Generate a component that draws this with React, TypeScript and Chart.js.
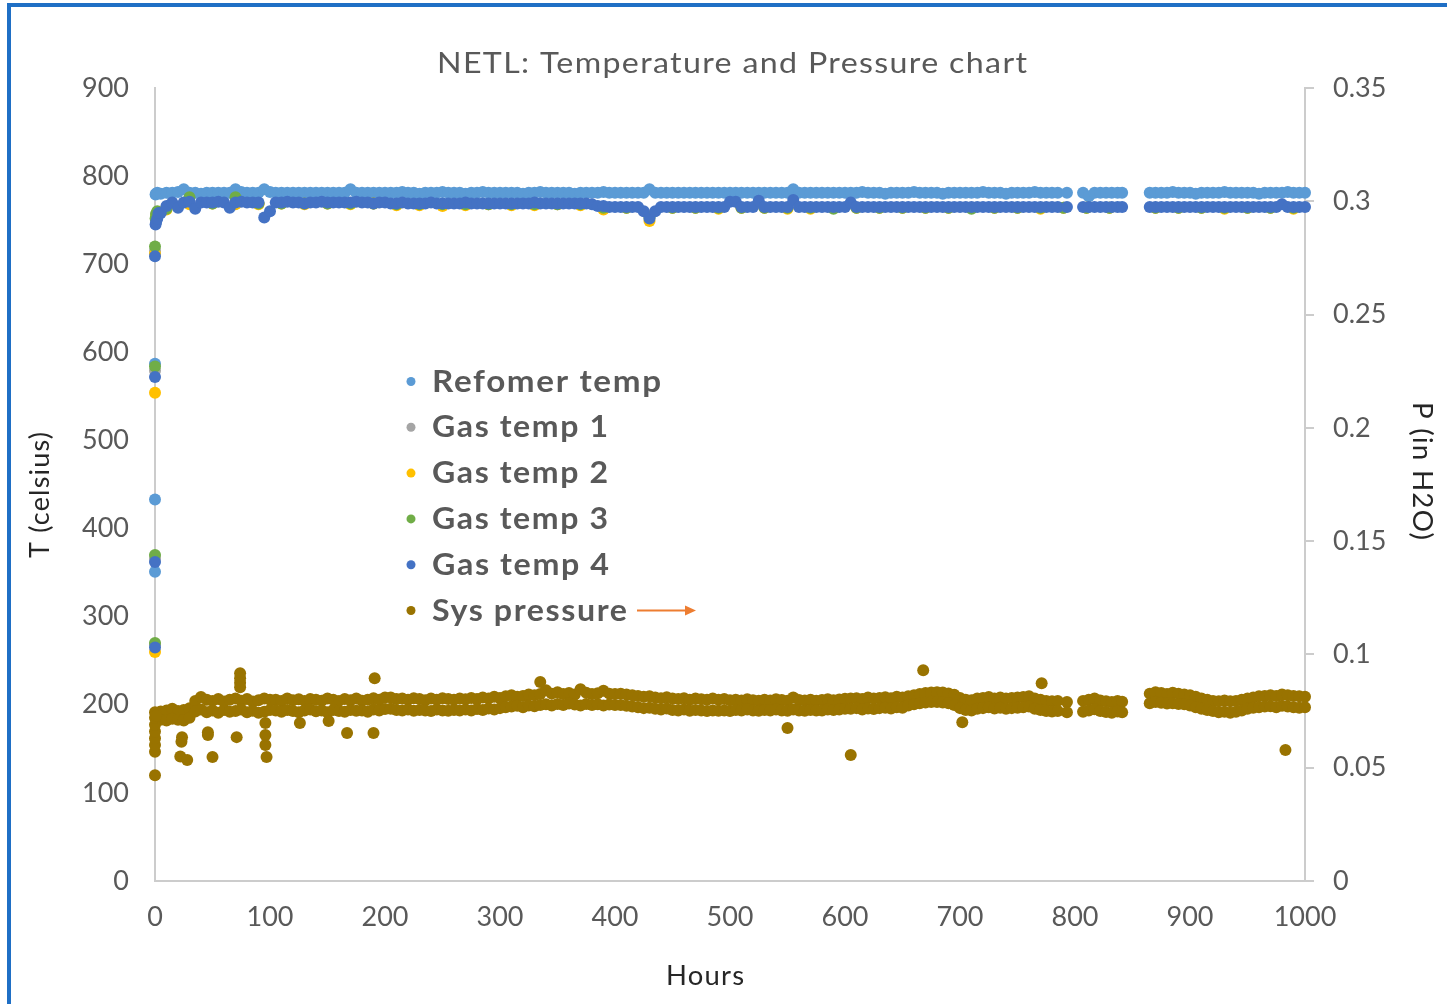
import React, { useEffect, useRef } from "react";
import { Chart, registerables } from "chart.js";

Chart.register(...registerables);

// ---------- DATA ----------
const chartTitle = "NETL: Temperature and Pressure chart";
const xTitle = "Hours";
const yLeftTitle = "T (celsius)";
const yRightTitle = "P (in H2O)";

const seriesNames = ["Refomer temp", "Gas temp 1", "Gas temp 2", "Gas temp 3", "Gas temp 4", "Sys pressure"];
const seriesColors = ["#5b9bd5", "#a5a5a5", "#ffc000", "#70ad47", "#4472c4", "#997300"];

// sampling hours of the steady-state readings
const hoursT = [
  5, 10, 15, 20, 25, 30, 35, 40, 45, 50, 55, 60, 65, 70, 75, 80, 85, 90, 95, 100,
  105, 110, 115, 120, 125, 130, 135, 140, 145, 150, 155, 160, 165, 170, 175, 180, 185, 190, 195, 200,
  205, 210, 215, 220, 225, 230, 235, 240, 245, 250, 255, 260, 265, 270, 275, 280, 285, 290, 295, 300,
  305, 310, 315, 320, 325, 330, 335, 340, 345, 350, 355, 360, 365, 370, 375, 380, 385, 390, 395, 400,
  405, 410, 415, 420, 425, 430, 435, 440, 445, 450, 455, 460, 465, 470, 475, 480, 485, 490, 495, 500,
  505, 510, 515, 520, 525, 530, 535, 540, 545, 550, 555, 560, 565, 570, 575, 580, 585, 590, 595, 600,
  605, 610, 615, 620, 625, 630, 635, 640, 645, 650, 655, 660, 665, 670, 675, 680, 685, 690, 695, 700,
  705, 710, 715, 720, 725, 730, 735, 740, 745, 750, 755, 760, 765, 770, 775, 780, 785, 793,
  807, 812, 817, 822, 827, 832, 837, 841,
  865, 870, 875, 880, 885, 890, 895, 900, 905, 910, 915, 920, 925, 930, 935, 940, 945, 950, 955, 960,
  965, 970, 975, 980, 985, 990, 995, 1000,
];

const reformerTemp = [
  780, 781, 781, 782, 785, 781, 781, 780, 781, 781, 781, 781, 781, 785, 782, 781, 781, 781, 785, 782,
  781, 781, 781, 781, 781, 781, 781, 781, 781, 781, 781, 781, 781, 785, 781, 781, 781, 781, 781, 781,
  781, 781, 782, 781, 781, 780, 781, 781, 781, 782, 781, 781, 781, 780, 781, 781, 782, 781, 781, 781,
  781, 781, 781, 780, 781, 781, 782, 781, 781, 781, 781, 781, 780, 781, 781, 781, 781, 782, 781, 781,
  781, 781, 781, 781, 781, 785, 781, 781, 781, 781, 781, 781, 781, 781, 781, 781, 781, 781, 781, 781,
  781, 781, 781, 781, 781, 781, 781, 781, 781, 781, 785, 781, 781, 781, 781, 781, 781, 781, 781, 781,
  781, 781, 782, 781, 781, 781, 780, 781, 781, 781, 781, 782, 781, 781, 781, 781, 780, 781, 781, 781,
  781, 781, 781, 782, 781, 781, 781, 780, 781, 781, 781, 781, 782, 781, 781, 781, 781, 781,
  781, 777, 781, 781, 781, 781, 781, 781,
  781, 781, 781, 781, 782, 781, 781, 781, 780, 781, 781, 781, 781, 782, 781, 781, 781, 781, 781, 780,
  781, 781, 781, 781, 782, 781, 781, 781,
];

const gasTemp4 = [
  758, 766, 770, 764, 770, 771, 763, 770, 770, 770, 771, 770, 764, 770, 771, 770, 770, 770, 753, 760,
  770, 770, 771, 770, 770, 769, 770, 770, 771, 770, 770, 770, 770, 770, 771, 770, 770, 769, 770, 770,
  769, 769, 770, 769, 769, 769, 769, 770, 769, 769, 769, 769, 769, 770, 769, 769, 769, 769, 769, 769,
  769, 769, 769, 769, 769, 770, 769, 769, 769, 769, 769, 769, 769, 769, 769, 768, 766, 766, 765, 765,
  765, 765, 765, 765, 760, 752, 760, 765, 765, 765, 765, 765, 765, 765, 765, 765, 765, 765, 765, 771,
  771, 765, 765, 765, 772, 765, 765, 765, 765, 765, 773, 765, 765, 765, 765, 765, 765, 765, 765, 765,
  770, 765, 765, 765, 765, 765, 765, 765, 765, 765, 765, 765, 765, 765, 765, 765, 765, 765, 765, 765,
  765, 765, 765, 765, 765, 765, 765, 765, 765, 765, 765, 765, 765, 765, 765, 765, 765, 765,
  765, 765, 765, 765, 765, 765, 765, 765,
  765, 765, 765, 765, 765, 765, 765, 765, 765, 765, 765, 765, 765, 765, 765, 765, 765, 765, 765, 765,
  765, 765, 765, 768, 765, 765, 765, 765,
];

const pressureUpper = [
  0.0748, 0.0752, 0.0760, 0.0750, 0.0755, 0.0762, 0.0795, 0.0812, 0.0800, 0.0795, 0.0803, 0.0792, 0.0800, 0.0805, 0.0796, 0.0803, 0.0792, 0.0798, 0.0805, 0.0800,
  0.0800, 0.0795, 0.0805, 0.0798, 0.0802, 0.0795, 0.0803, 0.0800, 0.0796, 0.0805, 0.0800, 0.0795, 0.0803, 0.0798, 0.0805, 0.0796, 0.0800, 0.0807, 0.0800, 0.0810,
  0.0810, 0.0803, 0.0805, 0.0800, 0.0807, 0.0803, 0.0798, 0.0805, 0.0800, 0.0807, 0.0803, 0.0800, 0.0805, 0.0802, 0.0808, 0.0803, 0.0810, 0.0805, 0.0813, 0.0808,
  0.0815, 0.0820, 0.0813, 0.0817, 0.0823, 0.0820, 0.0825, 0.0842, 0.0827, 0.0833, 0.0825, 0.0830, 0.0823, 0.0846, 0.0831, 0.0825, 0.0829, 0.0840, 0.0827, 0.0825,
  0.0827, 0.0823, 0.0820, 0.0817, 0.0813, 0.0815, 0.0810, 0.0807, 0.0811, 0.0805, 0.0803, 0.0807, 0.0800, 0.0805, 0.0802, 0.0800, 0.0805, 0.0800, 0.0803, 0.0798,
  0.0800, 0.0797, 0.0802, 0.0798, 0.0796, 0.0800, 0.0797, 0.0802, 0.0799, 0.0796, 0.0810, 0.0799, 0.0797, 0.0800, 0.0796, 0.0799, 0.0802, 0.0798, 0.0801, 0.0804,
  0.0805, 0.0807, 0.0803, 0.0810, 0.0805, 0.0808, 0.0811, 0.0807, 0.0813, 0.0810, 0.0815, 0.0820, 0.0825, 0.0830, 0.0832, 0.0833, 0.0832, 0.0828, 0.0822, 0.0808,
  0.0800, 0.0798, 0.0805, 0.0808, 0.0812, 0.0806, 0.0810, 0.0805, 0.0808, 0.0810, 0.0812, 0.0815, 0.0805, 0.0800, 0.0795, 0.0793, 0.0795, 0.0790,
  0.0795, 0.0800, 0.0805, 0.0797, 0.0793, 0.0790, 0.0795, 0.0791,
  0.0827, 0.0833, 0.0830, 0.0825, 0.0831, 0.0827, 0.0823, 0.0820, 0.0813, 0.0805, 0.0800, 0.0795, 0.0793, 0.0797, 0.0793, 0.0795, 0.0800, 0.0805, 0.0810, 0.0815,
  0.0817, 0.0820, 0.0817, 0.0823, 0.0820, 0.0817, 0.0815, 0.0813,
];

const pressureLower = [
  0.0712, 0.0708, 0.0716, 0.0712, 0.0708, 0.0720, 0.0748, 0.0757, 0.0745, 0.0753, 0.0743, 0.0755, 0.0747, 0.0750, 0.0757, 0.0745, 0.0751, 0.0743, 0.0747, 0.0755,
  0.0753, 0.0747, 0.0755, 0.0750, 0.0745, 0.0753, 0.0757, 0.0749, 0.0753, 0.0745, 0.0755, 0.0750, 0.0747, 0.0755, 0.0751, 0.0753, 0.0747, 0.0757, 0.0753, 0.0759,
  0.0760, 0.0755, 0.0753, 0.0757, 0.0751, 0.0755, 0.0753, 0.0750, 0.0757, 0.0753, 0.0751, 0.0755, 0.0752, 0.0757, 0.0753, 0.0759, 0.0755, 0.0761, 0.0757, 0.0763,
  0.0767, 0.0770, 0.0773, 0.0767, 0.0775, 0.0771, 0.0777, 0.0780, 0.0775, 0.0781, 0.0777, 0.0783, 0.0779, 0.0775, 0.0781, 0.0777, 0.0780, 0.0775, 0.0779, 0.0777,
  0.0777, 0.0773, 0.0770, 0.0767, 0.0763, 0.0765, 0.0760, 0.0757, 0.0761, 0.0755, 0.0753, 0.0757, 0.0751, 0.0755, 0.0752, 0.0750, 0.0753, 0.0751, 0.0753, 0.0750,
  0.0755, 0.0752, 0.0757, 0.0753, 0.0751, 0.0755, 0.0752, 0.0757, 0.0753, 0.0751, 0.0757, 0.0753, 0.0751, 0.0755, 0.0752, 0.0753, 0.0757, 0.0755, 0.0757, 0.0760,
  0.0760, 0.0763, 0.0757, 0.0761, 0.0759, 0.0763, 0.0765, 0.0761, 0.0767, 0.0765, 0.0775, 0.0780, 0.0784, 0.0788, 0.0790, 0.0790, 0.0788, 0.0784, 0.0777, 0.0763,
  0.0755, 0.0753, 0.0760, 0.0763, 0.0767, 0.0761, 0.0765, 0.0760, 0.0763, 0.0765, 0.0767, 0.0770, 0.0760, 0.0755, 0.0750, 0.0748, 0.0750, 0.0745,
  0.0747, 0.0752, 0.0758, 0.0750, 0.0746, 0.0743, 0.0748, 0.0745,
  0.0785, 0.0790, 0.0787, 0.0783, 0.0785, 0.0781, 0.0780, 0.0775, 0.0767, 0.0760, 0.0755, 0.0750, 0.0745, 0.0747, 0.0743, 0.0747, 0.0753, 0.0760, 0.0765, 0.0767,
  0.0770, 0.0771, 0.0767, 0.0773, 0.0770, 0.0767, 0.0765, 0.0767,
];

// scattered pressure readings off the main band
const pressureExtraHours = [0, 0, 0, 0, 0, 0, 0, 0, 1, 22, 23, 23.5, 28, 46, 46, 50, 71, 74, 74, 74, 74, 96, 96, 96, 97, 126, 151, 167, 190, 191, 335, 550, 605, 668, 702, 771, 983];
const pressureExtraValues = [0.0467, 0.057, 0.060, 0.063, 0.066, 0.069, 0.072, 0.0745, 0.073, 0.055, 0.0615, 0.0635, 0.0534, 0.0657, 0.0644, 0.0547, 0.0635, 0.0917, 0.0895, 0.0875, 0.0855, 0.0697, 0.0644, 0.060, 0.0547, 0.0697, 0.0706, 0.0653, 0.0653, 0.0895, 0.0878, 0.0675, 0.0556, 0.093, 0.0701, 0.0873, 0.0578];

// gas temps 1-3 (mostly hidden behind gas temp 4)
const hoursG = [10, 30, 50, 70, 90, 110, 130, 150, 170, 190, 210, 230, 250, 270, 290, 310, 330, 350, 370, 390, 410, 430, 450, 470, 490, 510, 530, 550, 570, 590, 610, 630, 650, 670, 690, 710, 730, 750, 770, 790, 810, 830, 870, 890, 910, 930, 950, 970, 990];
const gasTemp1 = [
  765, 769, 769, 769, 769, 769, 769, 769, 769, 769,
  768, 768, 768, 768, 768, 768, 768, 768, 768, 764,
  764, 755, 764, 764, 764, 764, 764, 764, 764, 764,
  764, 764, 764, 764, 764, 764, 764, 764, 764, 764,
  764, 764, 764, 764, 764, 764, 764, 764, 764,
];
const gasTemp2 = [
  762, 768, 769, 768, 768, 769, 768, 769, 768, 769,
  767, 767, 766, 767, 768, 767, 767, 768, 767, 762,
  764, 749, 764, 764, 763, 764, 764, 763, 763, 764,
  764, 764, 764, 764, 764, 764, 764, 764, 763, 764,
  764, 764, 764, 764, 764, 763, 764, 764, 763,
];
const gasTemp3 = [
  763, 776, 769, 776, 769, 769, 769, 769, 769, 769,
  768, 768, 768, 768, 768, 768, 768, 768, 768, 764,
  764, 753, 764, 764, 764, 764, 764, 764, 764, 763,
  764, 764, 764, 764, 764, 763, 764, 764, 764, 764,
  764, 764, 764, 764, 764, 764, 764, 764, 764,
];

// start-up readings (heat-up at hour 0)
const reformerStartHours = [0, 0, 0, 0.5, 1, 2];
const reformerStartTemps = [433, 351, 587, 779, 780, 781];
const gas1StartHours = [0, 0, 0, 0, 1];
const gas1StartTemps = [268, 366, 579, 715, 757];
const gas2StartHours = [0, 0, 0, 1];
const gas2StartTemps = [260, 554, 712, 755];
const gas3StartHours = [0, 0, 0, 0, 0.5, 1, 2];
const gas3StartTemps = [270, 370, 584, 720, 752, 757, 760];
const gas4StartHours = [0, 0, 0, 0, 0.5, 1, 2, 3];
const gas4StartTemps = [265, 362, 572, 709, 745, 748, 752, 758];

// ---------- helpers ----------
const toPoints = (xs: number[], ys: number[]) => xs.map((x, i) => ({ x, y: ys[i] }));

// draws text starting at `left`, spread to `width` (small letter spacing, then horizontal scale)
function drawFitted(ctx: any, text: string, left: number, y: number, width: number, font: string, color: string, baseline: string = "alphabetic", maxLs: number = 1.2) {
  ctx.font = font;
  ctx.fillStyle = color;
  ctx.textAlign = "left";
  ctx.textBaseline = baseline;
  ctx.letterSpacing = "0px";
  const n = text.length;
  const w = ctx.measureText(text).width;
  let ls = n > 1 ? (width - w) / (n - 1) : 0;
  if (ls > maxLs) ls = maxLs;
  if (ls < 0) ls = 0;
  const w2 = w + ls * (n - 1);
  const sx = width / w2;
  ctx.letterSpacing = ls.toFixed(2) + "px";
  ctx.save();
  ctx.translate(left, y);
  ctx.scale(sx, 1);
  ctx.fillText(text, 0, 0);
  ctx.restore();
  ctx.letterSpacing = "0px";
}

const legendWidths = [229, 176, 176, 176, 177, 195];

const textPlugin = {
  id: "textPlugin",
  afterDraw(chart: any) {
    const ctx = chart.ctx;
    ctx.save();
    drawFitted(ctx, chartTitle, 437, 73, 590, "29px Lato", "#595959");
    drawFitted(ctx, xTitle, 666, 985, 78, "27px Lato", "#262626");

    ctx.save();
    ctx.translate(40, 495);
    ctx.rotate(-Math.PI / 2);
    drawFitted(ctx, yLeftTitle, -63, 0, 126, "27px Lato", "#262626", "middle");
    ctx.restore();

    ctx.save();
    ctx.translate(1422, 471);
    ctx.rotate(Math.PI / 2);
    drawFitted(ctx, yRightTitle, -69, 0, 138, "27px Lato", "#262626", "middle");
    ctx.restore();

    // legend
    chart.data.datasets.forEach((ds: any, i: number) => {
      const cy = 381.5 + i * 45.8;
      ctx.beginPath();
      ctx.arc(411, cy, 4.5, 0, Math.PI * 2);
      ctx.fillStyle = ds.backgroundColor;
      ctx.fill();
      drawFitted(ctx, ds.label, 432, cy + 10, legendWidths[i], "bold 30px Lato", "#595959", "alphabetic", 1.5);
    });

    // arrow next to Sys pressure
    const ay = 381.5 + 5 * 45.8;
    ctx.strokeStyle = "#ed7d31";
    ctx.fillStyle = "#ed7d31";
    ctx.lineWidth = 2;
    ctx.beginPath();
    ctx.moveTo(637, ay);
    ctx.lineTo(686, ay);
    ctx.stroke();
    ctx.beginPath();
    ctx.moveTo(696, ay);
    ctx.lineTo(685, ay - 5);
    ctx.lineTo(685, ay + 5);
    ctx.closePath();
    ctx.fill();
    ctx.restore();
  },
};

export default function App() {
  const ref = useRef<HTMLCanvasElement>(null);

  useEffect(() => {
    const canvas = ref.current;
    if (!canvas) return;

    const mk = (idx: number, data: any[], order: number, yAxisID = "y") => ({
      label: seriesNames[idx],
      data,
      backgroundColor: seriesColors[idx],
      borderColor: seriesColors[idx],
      pointRadius: 6,
      pointHoverRadius: 6,
      pointBorderWidth: 0,
      showLine: false,
      clip: false,
      order,
      yAxisID,
    });

    const datasets = [
      mk(0, [...toPoints(reformerStartHours, reformerStartTemps), ...toPoints(hoursT, reformerTemp)], 6),
      mk(1, [...toPoints(gas1StartHours, gas1StartTemps), ...toPoints(hoursG, gasTemp1)], 5),
      mk(2, [...toPoints(gas2StartHours, gas2StartTemps), ...toPoints(hoursG, gasTemp2)], 4),
      mk(3, [...toPoints(gas3StartHours, gas3StartTemps), ...toPoints(hoursG, gasTemp3)], 3),
      mk(4, [...toPoints(gas4StartHours, gas4StartTemps), ...toPoints(hoursT, gasTemp4)], 2),
      mk(5, [...toPoints(hoursT, pressureUpper), ...toPoints(hoursT, pressureLower), ...toPoints(pressureExtraHours, pressureExtraValues)], 1, "y2"),
    ];

    const tickFont = { family: "Lato", size: 27 };
    const axisBorder = { display: true, color: "#cccccc", width: 2 };

    const chart = new Chart(canvas, {
      type: "scatter",
      data: { datasets } as any,
      options: {
        animation: false,
        responsive: false,
        devicePixelRatio: 1,
        events: [],
        layout: { padding: { top: 88, left: 0, right: 0, bottom: 0 } },
        plugins: {
          legend: { display: false },
          title: { display: false },
          tooltip: { enabled: false },
        },
        scales: {
          x: {
            type: "linear",
            position: "bottom",
            min: 0,
            max: 1000,
            grid: { display: false },
            border: axisBorder,
            ticks: {
              stepSize: 100,
              color: "#595959",
              font: tickFont,
              padding: 12,
              maxRotation: 0,
              autoSkip: false,
              callback: (v: any) => String(v),
            },
            afterFit: (s: any) => { s.height = 123; },
          },
          y: {
            type: "linear",
            position: "left",
            min: 0,
            max: 900,
            grid: { display: false },
            border: axisBorder,
            ticks: {
              stepSize: 100,
              color: "#595959",
              font: tickFont,
              padding: 18,
              callback: (v: any) => String(v),
            },
            afterFit: (s: any) => { s.width = 155; },
          },
          y2: {
            type: "linear",
            position: "right",
            min: 0,
            max: 0.35,
            grid: {
              display: true,
              drawOnChartArea: false,
              drawTicks: true,
              tickLength: 9,
              color: "#cccccc",
              lineWidth: 2,
            },
            border: axisBorder,
            ticks: {
              stepSize: 0.05,
              color: "#595959",
              font: tickFont,
              padding: 19,
              callback: (v: any) => String(Number(Number(v).toFixed(2))),
            },
            afterFit: (s: any) => { s.width = 142; },
          },
        },
      } as any,
      plugins: [textPlugin as any],
    });

    return () => chart.destroy();
  }, []);

  return (
    <div style={{ position: "fixed", left: 0, top: 0, width: 1447, height: 1004, background: "#ffffff", overflow: "hidden" }}>
      <canvas ref={ref} width={1447} height={1004} style={{ position: "absolute", left: 0, top: 0, width: 1447, height: 1004 }} />
      <div
        style={{
          position: "absolute",
          left: 7,
          top: 3,
          width: 1480,
          height: 1040,
          borderLeft: "4px solid #1f6fc5",
          borderTop: "4px solid #1f6fc5",
          pointerEvents: "none",
        }}
      />
    </div>
  );
}
